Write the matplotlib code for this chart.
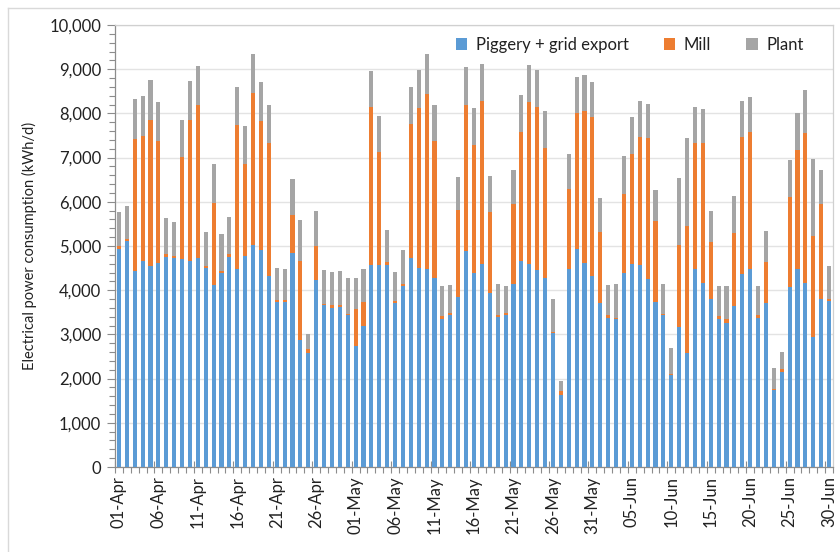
import matplotlib
matplotlib.use("Agg")
import matplotlib.pyplot as plt
import matplotlib.transforms as mtrans
from matplotlib.lines import Line2D
from matplotlib.ticker import MultipleLocator, FuncFormatter, FixedLocator
import numpy as np
import pandas as pd

plt.rcParams['font.family'] = ['Lato', 'DejaVu Sans']

dates = pd.date_range("2021-04-01", "2021-06-30", freq="D")
date_labels = [d.strftime("%d-%b") for d in dates]

piggery = [4940, 5120, 4430, 4670, 4550, 4620, 4750, 4730, 4700, 4660,
           4720, 4500, 4110, 4380, 4750, 4490, 4770, 5030, 4910, 4320,
           3740, 3740, 4850, 2880, 2580, 4240, 3660, 3600, 3610, 3440,
           2730, 3180, 4560, 4560, 4580, 3710, 4100, 4720, 4510, 4480,
           4280, 3340, 3430, 3840, 4880, 4390, 4600, 3940, 3390, 3430,
           4150, 4660, 4600, 4450, 4280, 3030, 1640, 4470, 4930, 4610,
           4330, 3700, 3380, 3340, 4380, 4600, 4580, 4250, 3740, 3440,
           2080, 3170, 2570, 4480, 4170, 3800, 3340, 3250, 3640, 4360,
           4470, 3380, 3710, 1740, 2160, 4070, 4470, 4160, 2940, 3790,
           3760]
mill = [60, 40, 2990, 2830, 3310, 2750, 60, 50, 2310, 3200,
        3480, 50, 1870, 60, 70, 3240, 2080, 3430, 2910, 3010,
        40, 40, 860, 1790, 80, 760, 20, 60, 50, 30,
        850, 560, 3580, 2560, 50, 50, 40, 3030, 3620, 3970,
        3100, 80, 60, 1970, 3320, 2890, 3680, 1830, 50, 50,
        1800, 2910, 3660, 3690, 2940, 30, 70, 1820, 3090, 3440,
        3590, 1610, 50, 40, 1790, 2490, 2890, 3190, 1820, 30,
        30, 1850, 2890, 2850, 3170, 1290, 80, 90, 1650, 3100,
        3110, 50, 930, 20, 50, 2040, 2710, 3400, 2280, 2170,
        50]
plant = [760, 750, 900, 890, 890, 890, 830, 770, 850, 870,
         870, 760, 880, 840, 830, 870, 870, 890, 890, 850,
         730, 710, 800, 910, 340, 800, 780, 760, 770, 810,
         700, 750, 830, 820, 730, 660, 760, 850, 860, 890,
         820, 680, 620, 750, 860, 850, 840, 810, 710, 620,
         760, 850, 840, 850, 830, 730, 240, 800, 810, 830,
         800, 770, 680, 760, 860, 820, 810, 780, 710, 670,
         580, 1520, 1990, 820, 770, 710, 680, 760, 850, 830,
         790, 670, 710, 490, 390, 830, 830, 960, 1740, 750,
         730]

series_names = ["Piggery + grid export", "Mill", "Plant"]
colors = ["#5B9BD5", "#ED7D31", "#A5A5A5"]

W, H = 840, 552
fig = plt.figure(figsize=(W / 100, H / 100), dpi=100)
ax = fig.add_axes([115 / W, 1 - 467 / H, (833 - 115) / W, (467 - 25) / H])

x = np.arange(len(dates))
p = np.array(piggery)
m = np.array(mill)
pl = np.array(plant)
bw = 0.52
ax.bar(x, p, bw, color=colors[0], label=series_names[0], zorder=3)
ax.bar(x, m, bw, bottom=p, color=colors[1], label=series_names[1], zorder=3)
ax.bar(x, pl, bw, bottom=p + m, color=colors[2], label=series_names[2], zorder=3)

ax.set_xlim(-0.5, len(dates) - 0.5)
ax.set_ylim(0, 10000)

# y axis
ax.yaxis.set_major_locator(MultipleLocator(1000))
ax.yaxis.set_minor_locator(MultipleLocator(200))
ax.yaxis.set_major_formatter(FuncFormatter(lambda v, pos: f"{int(v):,}"))
ax.tick_params(axis='y', which='major', direction='out', length=6, width=0.8,
               color='#8c8c8c', labelsize=12, pad=4, labelcolor='#222222')
ax.tick_params(axis='y', which='minor', direction='out', length=4, width=0.8,
               color='#8c8c8c')
ax.grid(axis='y', which='major', color='#e3e3e3', linewidth=1, zorder=0)

# x axis: ticks at category boundaries, labels shifted to centers
major_pos = np.arange(-0.5, len(dates) - 0.5, 5)
ax.xaxis.set_major_locator(FixedLocator(major_pos))
ax.set_xticklabels([date_labels[int(v + 0.5)] for v in major_pos])
ax.xaxis.set_minor_locator(FixedLocator(np.arange(-0.5, len(dates), 1)))
ax.tick_params(axis='x', which='major', direction='inout', length=9, width=0.8,
               color='#8c8c8c', labelsize=12, labelrotation=90, pad=2,
               labelcolor='#222222')
ax.tick_params(axis='x', which='minor', direction='out', length=4, width=0.8,
               color='#8c8c8c')
offset = mtrans.ScaledTranslation(3.95 / 100, 0, fig.dpi_scale_trans)
for lab in ax.get_xticklabels():
    lab.set_transform(lab.get_transform() + offset)

for side in ['left', 'bottom']:
    ax.spines[side].set_color('#8c8c8c')
    ax.spines[side].set_linewidth(0.9)
for side in ['top', 'right']:
    ax.spines[side].set_color('#d0d0d0')
    ax.spines[side].set_linewidth(0.9)

ax.set_ylabel("Electrical power consumption (kWh/d)", fontsize=10.5,
              color='#222222', labelpad=9)

leg = ax.legend(loc='upper right', ncol=3, frameon=False, fontsize=12,
                bbox_to_anchor=(0.975, 1.0), handlelength=0.7, handleheight=0.7,
                handletextpad=0.5, columnspacing=2.1, borderaxespad=0.3)
for t in leg.get_texts():
    t.set_color('#222222')

# figure border (chart area)
fig.add_artist(Line2D([8 / W, 8 / W], [0, 1 - 8 / H], color='#d9d9d9', lw=1))
fig.add_artist(Line2D([8 / W, 1], [1 - 8 / H, 1 - 8 / H], color='#d9d9d9', lw=1))

fig.savefig("out.png", dpi=100)
